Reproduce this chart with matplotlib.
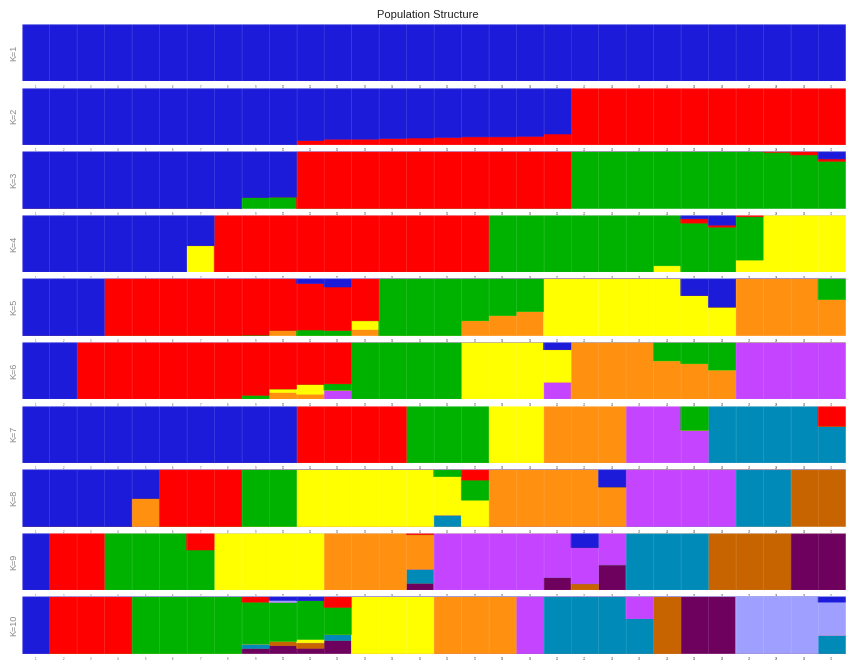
import matplotlib
matplotlib.use('Agg')
import matplotlib.pyplot as plt

# colours of the clusters, stacked from the bottom up in this order
colors = {
    'dpu': '#6e005e', 'brn': '#c86400', 'tea': '#008ab8', 'pur': '#c444ff',
    'org': '#ff9010', 'yel': '#ffff00', 'grn': '#00b200', 'red': '#ff0000',
    'lav': '#9f9fff', 'blu': '#1b1bd9',
}
stack_order = ['dpu', 'brn', 'tea', 'pur', 'org', 'yel', 'grn', 'red', 'lav', 'blu']

n_ind = 30
ind_labels = [str(i + 1) for i in range(n_ind)]

# membership per individual: a cluster name (pure) or {cluster: fraction}
k1 = ['blu'] * 30
k2 = (['blu'] * 10
      + [{'blu': 0.925, 'red': 0.075}, {'blu': 0.90, 'red': 0.10}, {'blu': 0.90, 'red': 0.10},
         {'blu': 0.89, 'red': 0.11}, {'blu': 0.88, 'red': 0.12}, {'blu': 0.87, 'red': 0.13},
         {'blu': 0.86, 'red': 0.14}, {'blu': 0.86, 'red': 0.14}, {'blu': 0.85, 'red': 0.15},
         {'blu': 0.81, 'red': 0.19}]
      + ['red'] * 10)
k3 = (['blu'] * 8
      + [{'blu': 0.81, 'grn': 0.19}, {'blu': 0.80, 'grn': 0.20}]
      + ['red'] * 10
      + ['grn'] * 7
      + [{'red': 0.02, 'grn': 0.98}, {'red': 0.065, 'grn': 0.935},
         {'blu': 0.135, 'red': 0.04, 'grn': 0.825}])
k4 = (['blu'] * 6
      + [{'blu': 0.54, 'yel': 0.46}]
      + ['red'] * 10
      + ['grn'] * 6
      + [{'grn': 0.89, 'yel': 0.11}, {'blu': 0.07, 'red': 0.075, 'grn': 0.855},
         {'blu': 0.18, 'red': 0.035, 'grn': 0.785}, {'red': 0.035, 'grn': 0.755, 'yel': 0.21}]
      + ['yel'] * 3)
k5 = (['blu'] * 3
      + ['red'] * 5
      + [{'red': 0.99, 'grn': 0.01}, {'red': 0.91, 'org': 0.09},
         {'blu': 0.09, 'red': 0.81, 'grn': 0.10}, {'blu': 0.15, 'red': 0.76, 'grn': 0.09},
         {'red': 0.74, 'yel': 0.15, 'org': 0.11}]
      + ['grn'] * 3
      + [{'grn': 0.74, 'org': 0.26}, {'grn': 0.65, 'org': 0.35}, {'grn': 0.58, 'org': 0.42}]
      + ['yel'] * 5
      + [{'blu': 0.30, 'yel': 0.70}, {'blu': 0.50, 'yel': 0.50}]
      + ['org'] * 3
      + [{'grn': 0.37, 'org': 0.63}])
k6 = (['blu'] * 2
      + ['red'] * 5
      + [{'red': 0.99, 'org': 0.01}, {'red': 0.93, 'grn': 0.07},
         {'red': 0.82, 'yel': 0.06, 'org': 0.12}, {'red': 0.74, 'yel': 0.17, 'org': 0.09},
         {'red': 0.73, 'grn': 0.11, 'pur': 0.16}]
      + ['grn'] * 4
      + ['yel'] * 3
      + [{'blu': 0.135, 'yel': 0.565, 'pur': 0.30}]
      + ['org'] * 3
      + [{'grn': 0.33, 'org': 0.67}, {'grn': 0.38, 'org': 0.62}, {'grn': 0.49, 'org': 0.51}]
      + ['pur'] * 4)
k7 = (['blu'] * 10 + ['red'] * 4 + ['grn'] * 3 + ['yel'] * 2 + ['org'] * 3 + ['pur'] * 2
      + [{'grn': 0.43, 'pur': 0.57}]
      + ['tea'] * 4
      + [{'red': 0.36, 'tea': 0.64}])
k8 = (['blu'] * 4
      + [{'blu': 0.51, 'org': 0.49}]
      + ['red'] * 3 + ['grn'] * 2 + ['yel'] * 5
      + [{'grn': 0.13, 'yel': 0.67, 'tea': 0.20}, {'red': 0.19, 'grn': 0.35, 'yel': 0.46}]
      + ['org'] * 4
      + [{'blu': 0.31, 'org': 0.69}]
      + ['pur'] * 4 + ['tea'] * 2 + ['brn'] * 2)
k9 = (['blu'] + ['red'] * 2 + ['grn'] * 3
      + [{'red': 0.30, 'grn': 0.70}]
      + ['yel'] * 4 + ['org'] * 3
      + [{'red': 0.035, 'org': 0.60, 'tea': 0.245, 'dpu': 0.12}]
      + ['pur'] * 4
      + [{'pur': 0.78, 'dpu': 0.22}, {'blu': 0.26, 'pur': 0.63, 'brn': 0.11},
         {'pur': 0.56, 'dpu': 0.44}]
      + ['tea'] * 3 + ['brn'] * 3 + ['dpu'] * 2)
k10 = (['blu'] + ['red'] * 3 + ['grn'] * 4
       + [{'red': 0.10, 'grn': 0.73, 'tea': 0.08, 'dpu': 0.09},
          {'blu': 0.07, 'lav': 0.035, 'grn': 0.68, 'brn': 0.075, 'dpu': 0.14},
          {'blu': 0.075, 'grn': 0.675, 'yel': 0.06, 'brn': 0.095, 'dpu': 0.095},
          {'red': 0.19, 'grn': 0.475, 'tea': 0.105, 'dpu': 0.23}]
       + ['yel'] * 3 + ['org'] * 3 + ['pur'] + ['tea'] * 3
       + [{'pur': 0.39, 'tea': 0.61}]
       + ['brn'] + ['dpu'] * 2 + ['lav'] * 3
       + [{'blu': 0.10, 'lav': 0.585, 'tea': 0.315}])

runs = [k1, k2, k3, k4, k5, k6, k7, k8, k9, k10]

W, H = 856, 671
fig = plt.figure(figsize=(W / 100, H / 100), dpi=100)

left, right = 22, 845.5
top0, pitch, ph = 24, 63.6, 57.3

for k, run in enumerate(runs):
    top = top0 + pitch * k
    ax = fig.add_axes([left / W, 1 - (top + ph) / H, (right - left) / W, ph / H])
    x = [i + 0.5 for i in range(n_ind)]
    bottom = [0.0] * n_ind
    for c in stack_order:
        vals = []
        for q in run:
            if isinstance(q, str):
                vals.append(1.0 if q == c else 0.0)
            else:
                vals.append(q.get(c, 0.0))
        if sum(vals) == 0:
            continue
        bars = ax.bar(x, vals, width=1.0, bottom=bottom, color=colors[c],
                      edgecolor=colors[c], linewidth=0.4)
        for b in bars:
            b.set_snap(False)
        bottom = [b + v for b, v in zip(bottom, vals)]
    # faint separators between individuals
    ax.vlines(range(1, n_ind), 0, 1, color='white', alpha=0.1, linewidth=0.6)
    ax.set_xlim(0, n_ind)
    ax.set_ylim(0, 1)
    ax.set_yticks([])
    ax.set_xticks(x)
    ax.set_xticklabels(ind_labels, fontsize=1.8, color='#555555')
    ax.tick_params(axis='x', length=0, pad=2.5)
    for s in ax.spines.values():
        s.set_color((1, 1, 1, 0.45))
        s.set_linewidth(0.8)
    ax.set_ylabel('K=%d' % (k + 1), fontsize=6.5, color='#888888', labelpad=3,
                  family='Liberation Sans')

fig.text(0.5, 1 - 15.5 / H, 'Population Structure', ha='center', va='center',
         fontsize=8, color='#222222', family='Liberation Sans')

fig.savefig('out.png', dpi=100)
